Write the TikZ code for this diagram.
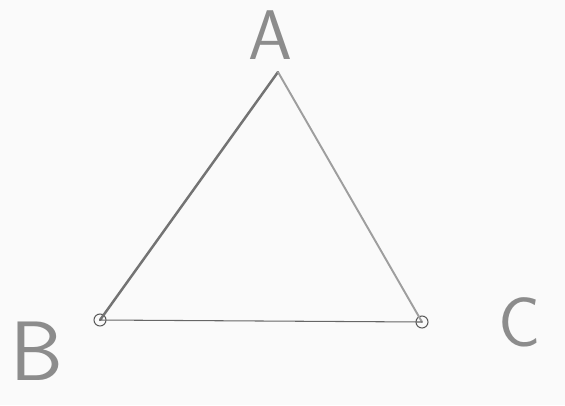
\documentclass[tikz,border=0pt]{standalone}
\usepackage{tikz}
\usetikzlibrary{positioning}

\begin{document}
\begin{tikzpicture}[
  font=\sffamily,
  lbl/.style={text=black!45, inner sep=0pt, font=\sffamily\fontsize{40}{40}\selectfont},
  pt/.style={draw=black!65, circle, inner sep=0pt, minimum size=0.24cm, semithick},
  side/.style={line cap=round},
  ]
  \useasboundingbox[fill=black!2] (0,0) rectangle (11.3,8.1);

  % vertices
  \coordinate (a) at (5.56,6.66);
  \node[pt] (b) at (2.0,1.7) {};
  \node[pt] (c) at (8.44,1.66) {};

  % labels
  \node[lbl] (la) at (5.4,7.4) {A};
  \node[lbl, font=\sffamily\fontsize{48}{48}\selectfont] (lb) at (0.74,1.08) {B};
  \node[lbl] (lc) at (10.4,1.66) {C};

  % sides
  \draw[side, black!55, line width=1.4pt] (a) -- (b.center);
  \draw[side, black!38, line width=1.1pt] (a) -- (c.center);
  \draw[side, black!60, line width=0.6pt] (b.center) -- (c.center);
\end{tikzpicture}
\end{document}
